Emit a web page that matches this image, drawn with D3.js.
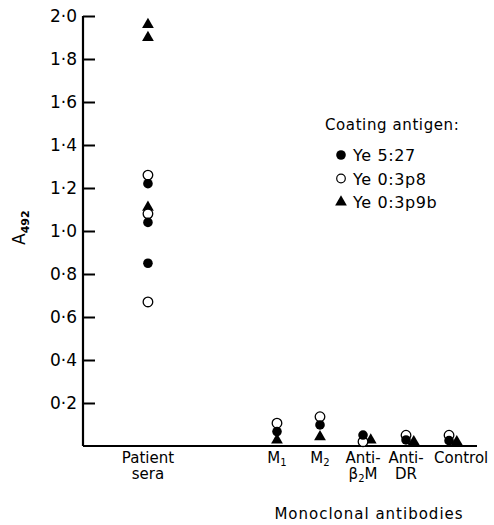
<!DOCTYPE html>
<html>
<head>
<meta charset="utf-8">
<script src="https://cdn.jsdelivr.net/npm/d3@7"></script>
<style>
  body { margin: 0; background: #fff; }
  svg text { font-family: "DejaVu Sans", sans-serif; fill: #000; }
</style>
</head>
<body>
<div id="root"></div>
<script>
// categories along the x axis ("_" marks a subscript character in the labels)
const categories = ["Patient sera", "M1", "M2", "Anti-b2M", "Anti-DR", "Control"];
const categoryLabels = [["Patient", "sera"], ["M_1"], ["M_2"], ["Anti-", "β_2M"], ["Anti-", "DR"], ["Control"]];

// A492 readings per coating antigen, [category, value]
const ye527 = [
    ["Patient sera", 1.22], ["Patient sera", 1.04], ["Patient sera", 0.85],
    ["M1", 0.067], ["M2", 0.098], ["Anti-b2M", 0.051], ["Anti-DR", 0.028], ["Control", 0.025]
];
const ye03p8 = [
    ["Patient sera", 1.26], ["Patient sera", 1.08], ["Patient sera", 0.67],
    ["M1", 0.106], ["M2", 0.136], ["Anti-b2M", 0.02], ["Anti-DR", 0.05], ["Control", 0.05]
];
const ye03p9b = [
    ["Patient sera", 1.96], ["Patient sera", 1.90], ["Patient sera", 1.11],
    ["M1", 0.028], ["M2", 0.043], ["Anti-b2M", 0.028], ["Anti-DR", 0.02], ["Control", 0.02]
];
const yTicks = [0.2, 0.4, 0.6, 0.8, 1.0, 1.2, 1.4, 1.6, 1.8, 2.0];
const legendLabels = ["Ye 5:27", "Ye 0:3p8", "Ye 0:3p9b"];

const w = 494, h = 525;

const svg = d3.select("#root").append("svg")
    .attr("width", w)
    .attr("height", h);

// patient sera sits apart from the monoclonal group
const slot = c => {
    const i = categories.indexOf(c);
    return i === 0 ? 0 : i + 2;
};
const xScale = d3.scaleLinear().domain([-1.51, 7.65]).range([83, 477]);
const yScale = d3.scaleLinear().domain([0, 2]).range([446, 16]);

// y axis, ticks pointing inward
const yAxis = d3.axisLeft(yScale)
    .tickValues(yTicks)
    .tickSizeInner(-12)
    .tickSizeOuter(0)
    .tickPadding(6)
    .tickFormat(d => d3.format(".1f")(d).replace(".", "\u00B7"));
const gy = svg.append("g")
    .attr("transform", "translate(83,0)")
    .call(yAxis);
gy.select(".domain")
    .attr("d", "M0," + yScale(0) + "V" + yScale(2))
    .attr("stroke", "#000")
    .attr("stroke-width", 2.2);
gy.selectAll(".tick line")
    .attr("stroke", "#000")
    .attr("stroke-width", 2);
gy.selectAll(".tick text")
    .attr("font-family", "DejaVu Sans")
    .attr("font-size", 17);

// x axis line
svg.append("path")
    .attr("d", "M" + xScale.range()[0] + "," + yScale(0) + "H" + xScale.range()[1])
    .attr("fill", "none")
    .attr("stroke", "#000")
    .attr("stroke-width", 2.2);

// category labels, one text per line
categoryLabels.forEach((lines, i) => {
    const last = i === categories.length - 1;
    const cx = xScale(slot(categories[i])) + (last ? -15 : 0);
    lines.forEach((line, j) => {
        const t = svg.append("text")
            .attr("text-anchor", last ? "start" : "middle")
            .attr("x", cx)
            .attr("y", 466 + j * 16)
            .style("font-size", "15px");
        line.split(/(_.)/).filter(s => s.length).forEach(part => {
            if (part[0] === "_") {
                t.append("tspan").attr("dy", 3).style("font-size", "10px").text(part[1]);
            } else {
                t.append("tspan").attr("dy", t.selectAll("tspan").size() ? -3 : 0).text(part);
            }
        });
    });
});

svg.append("text")
    .attr("x", 369).attr("y", 519)
    .attr("text-anchor", "middle")
    .style("font-size", "15px")
    .style("letter-spacing", "1px")
    .text("Monoclonal antibodies");

// y label A492
const yl = svg.append("text")
    .attr("transform", "translate(25,245) rotate(-90)")
    .style("font-size", "17px");
yl.append("tspan").text("A");
yl.append("tspan").attr("dy", 4).style("font-size", "11px").style("font-weight", "bold").text("492");

// markers
const r = 4.8;
const triangle = d3.symbol().type(d3.symbolTriangle).size(60);
const triDx = c => slot(c) >= 5 ? 0.18 : 0;

svg.append("g").selectAll("path")
    .data(ye03p9b).enter().append("path")
    .attr("d", triangle)
    .attr("transform", d => "translate(" + xScale(slot(d[0]) + triDx(d[0])) + "," + yScale(d[1]) + ")")
    .attr("fill", "#000");

svg.append("g").selectAll("circle")
    .data(ye03p8).enter().append("circle")
    .attr("cx", d => xScale(slot(d[0])))
    .attr("cy", d => yScale(d[1]))
    .attr("r", r)
    .attr("fill", "#fff")
    .attr("stroke", "#000")
    .attr("stroke-width", 1.3);

svg.append("g").selectAll("circle")
    .data(ye527).enter().append("circle")
    .attr("cx", d => xScale(slot(d[0])))
    .attr("cy", d => yScale(d[1]))
    .attr("r", r)
    .attr("fill", "#000");

// legend
const legend = svg.append("g");
legend.append("text")
    .attr("x", 325).attr("y", 130)
    .style("font-size", "15px")
    .style("letter-spacing", "0.6px")
    .text("Coating antigen:");
legendLabels.forEach((lab, i) => {
    const cy = 155 + i * 23.5;
    if (i === 0) {
        legend.append("circle").attr("cx", 341).attr("cy", cy).attr("r", r).attr("fill", "#000");
    } else if (i === 1) {
        legend.append("circle").attr("cx", 341).attr("cy", cy).attr("r", r - 0.5)
            .attr("fill", "#fff").attr("stroke", "#000").attr("stroke-width", 1.2);
    } else {
        legend.append("path").attr("d", triangle).attr("transform", "translate(341," + cy + ")").attr("fill", "#000");
    }
    legend.append("text")
        .attr("x", 353).attr("y", cy + 6)
        .style("font-size", "16px")
        .style("letter-spacing", "0.6px")
        .text(lab);
});
</script>
</body>
</html>
